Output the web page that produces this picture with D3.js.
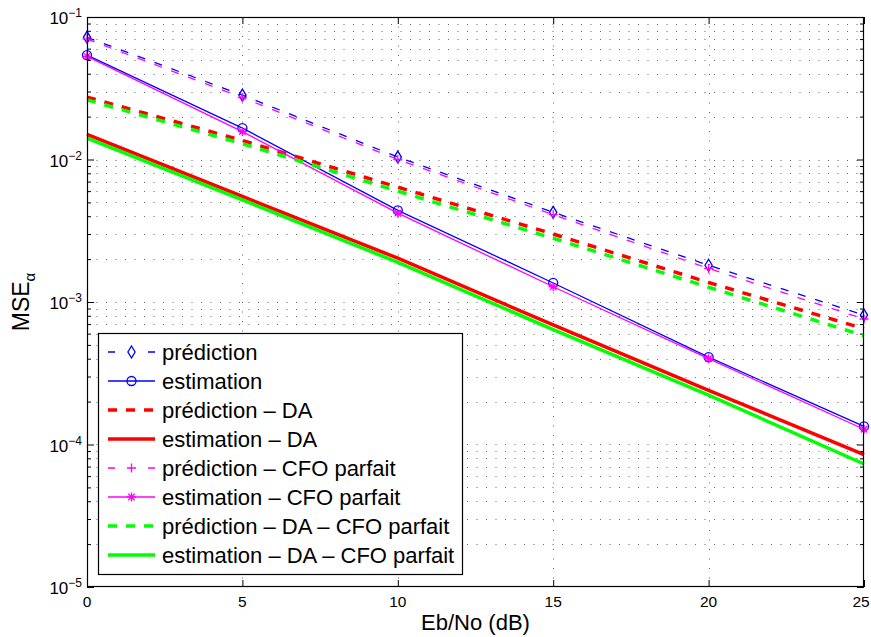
<!DOCTYPE html>
<html>
<head>
<meta charset="utf-8">
<script src="https://cdn.jsdelivr.net/npm/d3@7"></script>
<style>
  body { margin: 0; background: #fff; }
  text { font-family: "Liberation Sans", Arial, Helvetica, sans-serif; fill: #000; }
</style>
</head>
<body>
<script>
// Eb/No values (dB) and MSE curves
const ebno = [0, 5, 10, 15, 20, 25];
const prediction       = [0.0720, 0.0283, 0.0104, 0.00426, 0.00181, 0.00081];
const estimation       = [0.0540, 0.0166, 0.0044, 0.00136, 0.00041, 0.000134];
const predictionDA     = [0.0274, 0.0136, 0.0064, 0.00300, 0.00137, 0.00065];
const estimationDA     = [0.0150, 0.0055, 0.00203, 0.00069, 0.00024, 0.000085];
const predictionCFO    = [0.0700, 0.0272, 0.0100, 0.00410, 0.00172, 0.00076];
const estimationCFO    = [0.0530, 0.0157, 0.0042, 0.00128, 0.000400, 0.000128];
const predictionDACFO  = [0.0262, 0.0129, 0.0060, 0.00280, 0.00127, 0.00058];
const estimationDACFO  = [0.0141, 0.0052, 0.00190, 0.00064, 0.000222, 0.000073];

const legendLabels = [
  "prédiction", "estimation", "prédiction – DA", "estimation – DA",
  "prédiction – CFO parfait", "estimation – CFO parfait",
  "prédiction – DA – CFO parfait", "estimation – DA – CFO parfait"
];
const xTicks = [0, 5, 10, 15, 20, 25];
const yDecades = [1e-5, 1e-4, 1e-3, 1e-2, 1e-1];
const yExponents = ["−5", "−4", "−3", "−2", "−1"];

const series = [
  { values: prediction,      color: "#0000ff", width: 1.3, dash: "8,10", marker: "diamond" },
  { values: estimation,      color: "#0000ff", width: 1.3, dash: null,   marker: "circle" },
  { values: predictionDA,    color: "#ff0000", width: 3.5, dash: "9,9",  marker: null },
  { values: estimationDA,    color: "#ff0000", width: 3.5, dash: null,   marker: null },
  { values: predictionCFO,   color: "#ff00ff", width: 1.3, dash: "8,10", marker: "plus" },
  { values: estimationCFO,   color: "#ff00ff", width: 1.3, dash: null,   marker: "star" },
  { values: predictionDACFO, color: "#00ff00", width: 3.5, dash: "9,9",  marker: null },
  { values: estimationDACFO, color: "#00ff00", width: 3.5, dash: null,   marker: null }
];

const W = 871, H = 637;
const plot = { left: 87, right: 864, top: 17, bottom: 587 };

const svg = d3.select("body").append("svg")
  .attr("width", W).attr("height", H);

const x = d3.scaleLinear().domain([0, 25]).range([plot.left, plot.right]);
const y = d3.scaleLog().domain([1e-5, 1e-1]).range([plot.bottom, plot.top]);

const allY = y.ticks();
const isMajor = v => Math.abs(Math.log10(v) - Math.round(Math.log10(v))) < 1e-9;

// Dotted grid
const grid = svg.append("g").attr("stroke", "#000").attr("stroke-width", 1)
  .attr("stroke-dasharray", "1,8.5").attr("opacity", 0.6);
grid.selectAll(".gy").data(allY.filter(v => v > 1e-5 && v < 1e-1)).enter().append("line")
  .attr("x1", plot.left).attr("x2", plot.right)
  .attr("y1", d => Math.round(y(d)) + 0.5).attr("y2", d => Math.round(y(d)) + 0.5);
grid.selectAll(".gx").data(xTicks.slice(1, -1)).enter().append("line")
  .attr("y1", plot.top).attr("y2", plot.bottom)
  .attr("x1", d => Math.round(x(d)) + 0.5).attr("x2", d => Math.round(x(d)) + 0.5);

// Inward ticks on all four sides
const tickAxis = (axis, tx, ty) => {
  const g = svg.append("g").attr("transform", `translate(${tx},${ty})`).call(axis);
  g.select(".domain").remove();
  g.selectAll("text").remove();
  g.selectAll("line").attr("stroke", "#000");
};
const yMinor = allY.filter(v => !isMajor(v));
tickAxis(d3.axisLeft(y).tickValues(yDecades).tickSize(-7).tickFormat(""), plot.left, 0);
tickAxis(d3.axisLeft(y).tickValues(yMinor).tickSize(-4).tickFormat(""), plot.left, 0);
tickAxis(d3.axisRight(y).tickValues(yDecades).tickSize(-7).tickFormat(""), plot.right, 0);
tickAxis(d3.axisRight(y).tickValues(yMinor).tickSize(-4).tickFormat(""), plot.right, 0);
tickAxis(d3.axisBottom(x).tickValues(xTicks).tickSize(-7).tickFormat(""), 0, plot.bottom);
tickAxis(d3.axisTop(x).tickValues(xTicks).tickSize(-7).tickFormat(""), 0, plot.top);

// Tick labels (last one nudged so it stays inside the page)
svg.selectAll(".xl").data(xTicks).enter().append("text")
  .attr("x", d => Math.min(x(d), W - 10)).attr("y", plot.bottom + 20)
  .attr("text-anchor", "middle").attr("font-size", 15.5)
  .text(d => d);

const yl = svg.selectAll(".yl").data(yDecades).enter().append("text")
  .attr("x", 82).attr("y", d => y(d) + 7)
  .attr("text-anchor", "end").attr("font-size", 17);
yl.append("tspan").text("10");
yl.append("tspan").attr("font-size", 12).attr("dy", -7).text((d, i) => yExponents[i]);

// Curves
const line = d3.line().x((d, i) => x(ebno[i])).y(d => y(d));
const markerPath = {
  diamond: "M0,-6L3.6,0L0,6L-3.6,0Z",
  plus: "M-4.5,0H4.5M0,-4.5V4.5",
  star: "M-4.5,0H4.5M0,-4.5V4.5M-3.2,-3.2L3.2,3.2M-3.2,3.2L3.2,-3.2"
};
const drawMarker = (g, type, color, cx, cy) => {
  if (!type) return;
  if (type === "circle") {
    g.append("circle").attr("cx", cx).attr("cy", cy).attr("r", 4.5)
      .attr("fill", "none").attr("stroke", color).attr("stroke-width", 1.3);
  } else {
    g.append("path").attr("d", markerPath[type])
      .attr("transform", `translate(${cx},${cy})`)
      .attr("fill", "none").attr("stroke", color).attr("stroke-width", 1.3);
  }
};

const curves = svg.append("g");
series.forEach(s => {
  curves.append("path").attr("d", line(s.values))
    .attr("fill", "none").attr("stroke", s.color).attr("stroke-width", s.width)
    .attr("stroke-dasharray", s.dash);
  s.values.forEach((v, i) => drawMarker(curves, s.marker, s.color, x(ebno[i]), y(v)));
});

// Box
svg.append("rect").attr("x", plot.left + 0.5).attr("y", plot.top + 0.5)
  .attr("width", plot.right - plot.left - 1).attr("height", plot.bottom - plot.top - 1)
  .attr("fill", "none").attr("stroke", "#000").attr("stroke-width", 1.2);

// Axis labels
svg.append("text").attr("x", (plot.left + plot.right) / 2).attr("y", 630)
  .attr("text-anchor", "middle").attr("font-size", 22).text("Eb/No (dB)");
const ylab = svg.append("text").attr("transform", "translate(29,302) rotate(-90)")
  .attr("text-anchor", "middle").attr("font-size", 23);
ylab.append("tspan").text("MSE");
ylab.append("tspan").attr("font-size", 15).attr("dy", 6).text("α");

// Legend
const leg = svg.append("g");
leg.append("rect").attr("x", 98.5).attr("y", 333.5).attr("width", 364).attr("height", 241)
  .attr("fill", "#fff").attr("stroke", "#000").attr("stroke-width", 1.2);
series.forEach((s, i) => {
  const ly = 352 + i * 29;
  let dash = s.dash;
  if (s.dash && s.marker) dash = "7,33,7";
  leg.append("line").attr("x1", 108).attr("x2", 155).attr("y1", ly).attr("y2", ly)
    .attr("stroke", s.color).attr("stroke-width", s.width).attr("stroke-dasharray", dash);
  drawMarker(leg, s.marker, s.color, 131.5, ly);
  leg.append("text").attr("x", 162).attr("y", ly + 7.5).attr("font-size", 22)
    .text(legendLabels[i]);
});
</script>
</body>
</html>
